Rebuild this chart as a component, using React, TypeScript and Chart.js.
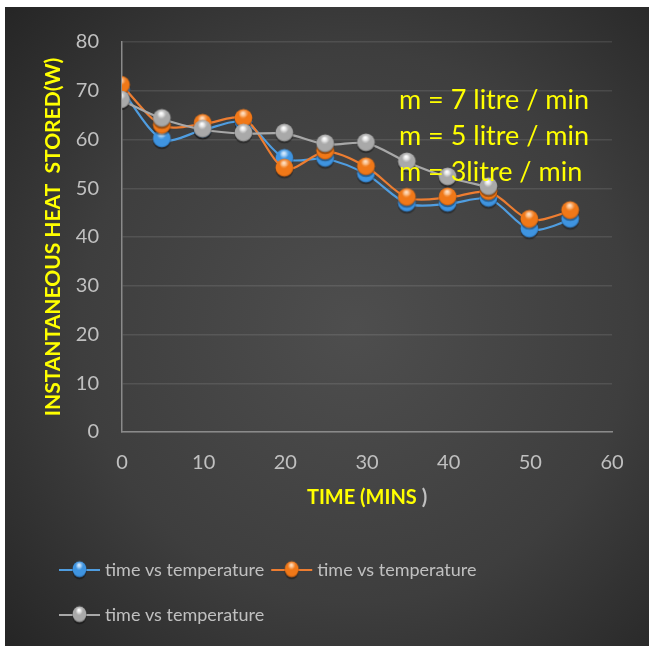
import { useEffect, useRef } from "react";
import { Chart, registerables } from "chart.js";

Chart.register(...registerables);

// Time in minutes and instantaneous heat stored (W) for three flow rates
const timeMins = [0, 5, 10, 15, 20, 25, 30, 35, 40, 45, 50, 55];
const heatFlow7 = [70, 60, 62, 63.5, 56, 56, 52.8, 46.8, 46.8, 47.8, 41.5, 43.5];
const heatFlow5 = [71, 62.8, 63.2, 64.2, 54, 57.5, 54.3, 48, 48.1, 49.2, 43.5, 45.3];
const heatFlow3 = [68, 64.2, 62, 61.2, 61.2, 59, 59.2, 55.3, 52.2, 50.2];
const seriesLabels = ["time vs temperature", "time vs temperature", "time vs temperature"];
const flowNotes = ["m = 7 litre / min", "m = 5 litre / min", "m = 3litre / min"];
const yTitle = "INSTANTANEOUS HEAT  STORED(W)";
const xTitleMain = "TIME (MINS";
const xTitleTail = " )";

const FONT = "Lato, 'Open Sans', sans-serif";
const TICK_COLOR = "#c0c0c0";
const YELLOW = "#ffff00";

type Palette = { line: string; light: string; base: string; dark: string };
const palettes: Palette[] = [
  { line: "#4f9de0", light: "#b5dcff", base: "#3f94e0", dark: "#1d5a98" },
  { line: "#ed7d31", light: "#ffc38a", base: "#f07818", dark: "#a84806" },
  { line: "#a8a8a8", light: "#ffffff", base: "#a9a9a9", dark: "#5f5f5f" },
];

function makeSphere(r: number, p: Palette): HTMLCanvasElement {
  const size = Math.ceil(r * 2 + 5);
  const cv = document.createElement("canvas");
  cv.width = size;
  cv.height = size;
  const ctx = cv.getContext("2d")!;
  const c = size / 2 - 1;
  // soft drop shadow
  ctx.fillStyle = "rgba(0,0,0,0.35)";
  ctx.beginPath();
  ctx.arc(c, c + 1.8, r, 0, Math.PI * 2);
  ctx.fill();
  // shaded body
  const g = ctx.createRadialGradient(c - r * 0.1, c - r * 0.55, r * 0.05, c, c, r * 1.08);
  g.addColorStop(0, p.light);
  g.addColorStop(0.4, p.base);
  g.addColorStop(0.82, p.base);
  g.addColorStop(1, p.dark);
  ctx.fillStyle = g;
  ctx.beginPath();
  ctx.arc(c, c, r, 0, Math.PI * 2);
  ctx.fill();
  // glossy cap
  const h = ctx.createRadialGradient(c, c - r * 0.55, 0, c, c - r * 0.55, r * 0.6);
  h.addColorStop(0, "rgba(255,255,255,0.55)");
  h.addColorStop(1, "rgba(255,255,255,0)");
  ctx.fillStyle = h;
  ctx.beginPath();
  ctx.ellipse(c, c - r * 0.5, r * 0.62, r * 0.4, 0, 0, Math.PI * 2);
  ctx.fill();
  return cv;
}

export default function App() {
  const canvasRef = useRef<HTMLCanvasElement | null>(null);

  useEffect(() => {
    if (!canvasRef.current) return;
    const spheres = palettes.map((p) => makeSphere(9, p));
    const legendSpheres = palettes.map((p) => makeSphere(7, p));

    const toPoints = (vals: number[]) => vals.map((v, i) => ({ x: timeMins[i], y: v }));
    const series = [heatFlow7, heatFlow5, heatFlow3];

    const decor = {
      id: "decor",
      beforeDraw(chart: Chart) {
        const { ctx, width, height } = chart;
        ctx.save();
        const g = ctx.createRadialGradient(350, 320, 0, 350, 320, 500);
        g.addColorStop(0, "#4e4e4e");
        g.addColorStop(0.55, "#3e3e3e");
        g.addColorStop(1, "#222222");
        ctx.fillStyle = g;
        ctx.fillRect(0, 0, width, height);
        ctx.restore();
      },
      afterDraw(chart: Chart) {
        const { ctx, chartArea } = chart;
        ctx.save();
        // flow-rate notes
        ctx.font = `27px ${FONT}`;
        ctx.fillStyle = YELLOW;
        ctx.textBaseline = "middle";
        ctx.textAlign = "left";
        flowNotes.forEach((t, i) => ctx.fillText(t, 394, 93 + i * 36));

        // x-axis title, closing bracket in grey
        ctx.font = `bold 20px ${FONT}`;
        const w1 = ctx.measureText(xTitleMain).width;
        const w2 = ctx.measureText(xTitleTail).width;
        const cx = (chartArea.left + chartArea.right) / 2;
        const x0 = cx - (w1 + w2) / 2;
        ctx.fillStyle = YELLOW;
        ctx.fillText(xTitleMain, x0, 491);
        ctx.fillStyle = TICK_COLOR;
        ctx.fillText(xTitleTail, x0 + w1, 491);

        // legend
        ctx.font = `18px ${FONT}`;
        const rows = [[0, 1], [2]];
        const rowY = [563, 608];
        rows.forEach((row, ri) => {
          let x = 54;
          const y = rowY[ri];
          row.forEach((di) => {
            ctx.strokeStyle = palettes[di].line;
            ctx.lineWidth = 2;
            ctx.beginPath();
            ctx.moveTo(x, y);
            ctx.lineTo(x + 41, y);
            ctx.stroke();
            const s = legendSpheres[di];
            ctx.drawImage(s, x + 20.5 - s.width / 2 + 1, y - s.height / 2 - 1, s.width, s.height * 1.15);
            ctx.fillStyle = TICK_COLOR;
            ctx.fillText(seriesLabels[di], x + 46, y);
            x += 46 + ctx.measureText(seriesLabels[di]).width + 7;
          });
        });
        ctx.restore();
      },
    };

    const chart = new Chart(canvasRef.current, {
      type: "line",
      data: {
        datasets: series.map((vals, i) => ({
          label: seriesLabels[i],
          data: toPoints(vals),
          borderColor: palettes[i].line,
          backgroundColor: palettes[i].base,
          borderWidth: 2.2,
          tension: 0.3,
          pointStyle: spheres[i],
          pointRadius: 9,
          order: 2 - i,
        })),
      },
      options: {
        animation: false,
        responsive: true,
        maintainAspectRatio: false,
        layout: { padding: { left: 0, right: 37, top: 30, bottom: 134 } },
        plugins: {
          legend: { display: false },
          tooltip: { enabled: false },
        },
        scales: {
          x: {
            type: "linear",
            min: 0,
            max: 60,
            afterFit: (s: any) => {
              s.height = 80;
            },
            ticks: {
              stepSize: 10,
              color: TICK_COLOR,
              padding: 19,
              font: { family: FONT, size: 20 },
            },
            grid: { display: false, drawTicks: false },
            border: { display: true, color: "#8a8a8a", width: 1.5 },
          },
          y: {
            min: 0,
            max: 80,
            afterFit: (s: any) => {
              s.width = 117;
            },
            ticks: {
              stepSize: 10,
              color: TICK_COLOR,
              padding: 23,
              font: { family: FONT, size: 20 },
            },
            grid: { color: "rgba(255,255,255,0.1)", lineWidth: 1.5, drawTicks: false },
            border: { display: true, color: "#8a8a8a", width: 1.5 },
            title: {
              display: true,
              text: yTitle,
              color: YELLOW,
              font: { family: FONT, size: 21, weight: "bold" },
              padding: { top: 36, bottom: 0 },
            },
          },
        },
      },
      plugins: [decor],
    });
    return () => chart.destroy();
  }, []);

  return (
    <div style={{ position: "absolute", left: 5, top: 7, width: 644, height: 639 }}>
      <canvas ref={canvasRef} />
    </div>
  );
}
